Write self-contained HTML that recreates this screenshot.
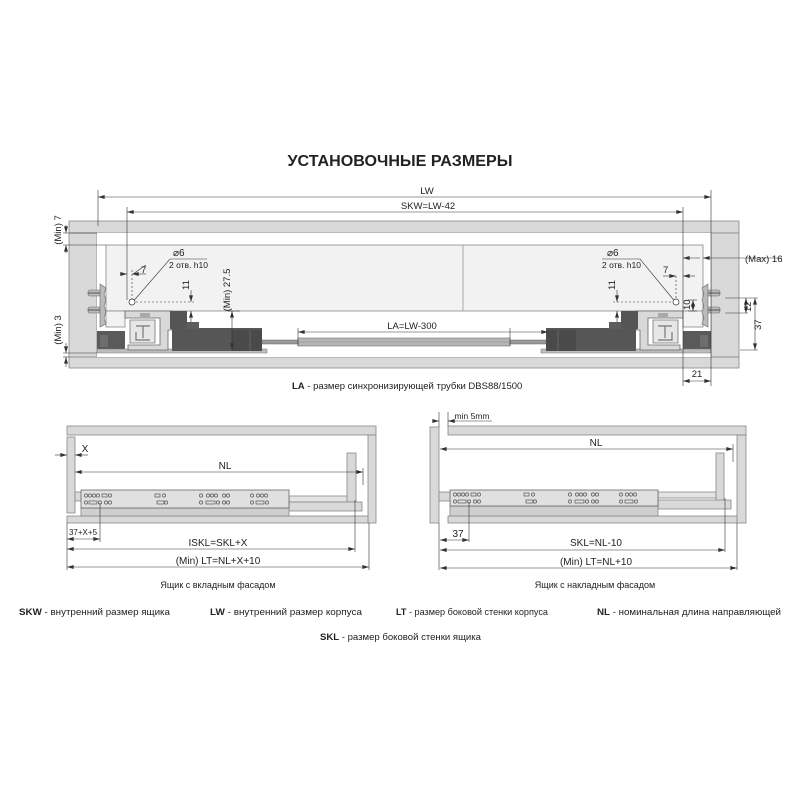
<!DOCTYPE html>
<html><head><meta charset="utf-8">
<style>
html,body{margin:0;padding:0;background:#fff;}
svg{display:block;font-family:"Liberation Sans",sans-serif;}
</style></head><body>
<svg width="800" height="800" viewBox="0 0 800 800" xmlns="http://www.w3.org/2000/svg">
<defs>
<marker id="a" viewBox="0 0 10 6" refX="10" refY="3" markerWidth="7" markerHeight="4" orient="auto-start-reverse" markerUnits="userSpaceOnUse"><path d="M0,0L10,3L0,6z" fill="#333"/></marker>
<g id="mech">
  <g fill="#bbb" stroke="#666" stroke-width="0.6">
    <rect x="88" y="290" width="14" height="6" rx="2"/>
    <rect x="88" y="307" width="14" height="6" rx="2"/>
    <path d="M100,284 L106,288 L104,294 L106,300 L104,306 L106,312 L104,318 L106,324 L100,327 z"/>
  </g>
  <path d="M88,293 h12 M88,310 h12" stroke="#555" stroke-width="1"/>
  <rect x="97" y="331" width="28" height="19" fill="#5a5a5a"/>
  <rect x="100" y="335" width="8" height="12" fill="#6e6e6e"/>
  <rect x="97" y="349" width="170" height="4" fill="#bdbdbd" stroke="#777" stroke-width="0.5"/>
  <path d="M125,311 H172 V330 H168 V350 H128 V345 H160 V318 H125 z" fill="#d9d9d9" stroke="#666" stroke-width="0.8"/>
  <path d="M130,320 H155 V343 H130 z" fill="#e6e6e6" stroke="#777" stroke-width="0.8"/>
  <path d="M136,326 H150 M143,326 V338 M136,332 V340 H150" fill="none" stroke="#777" stroke-width="1.2"/>
  <rect x="140" y="313" width="10" height="4" fill="#aaa"/>
  <rect x="170" y="311" width="17" height="18" fill="#555"/>
  <rect x="172" y="328" width="90" height="23" fill="#565656"/>
  <rect x="187" y="322" width="12" height="7" fill="#5d5d5d"/>
  <rect x="232" y="330" width="30" height="21" fill="#4a4a4a"/>
  <line x1="250" y1="330" x2="250" y2="351" stroke="#777" stroke-width="0.6"/>
  <rect x="262" y="340" width="36" height="4" fill="#999" stroke="#666" stroke-width="0.5"/>
</g>
</defs>

<text x="400" y="166" text-anchor="middle" font-size="16" font-weight="bold" fill="#222" textLength="225" lengthAdjust="spacingAndGlyphs">УСТАНОВОЧНЫЕ  РАЗМЕРЫ</text>

<g stroke="#888" stroke-width="0.8" fill="#d9d9d9">
  <rect x="69" y="221" width="670" height="12"/>
  <rect x="69" y="233" width="28" height="124"/>
  <rect x="711" y="233" width="28" height="124"/>
  <rect x="69" y="357" width="670" height="11"/>
</g>
<rect x="97" y="233" width="614" height="124" fill="#fff"/>
<rect x="106" y="245" width="597" height="66" fill="#f2f2f2" stroke="#888" stroke-width="0.8"/>
<line x1="463" y1="245" x2="463" y2="311" stroke="#999" stroke-width="0.8"/>
<rect x="106" y="311" width="19" height="16" fill="#f2f2f2" stroke="#888" stroke-width="0.8"/>
<rect x="683" y="311" width="20" height="16" fill="#f2f2f2" stroke="#888" stroke-width="0.8"/>
<use href="#mech"/>
<use href="#mech" transform="translate(808,0) scale(-1,1)"/>
<rect x="298" y="338" width="212" height="8" fill="#b5b5b5" stroke="#777" stroke-width="0.6"/>
<line x1="298" y1="342" x2="510" y2="342" stroke="#888" stroke-width="0.6"/>

<g stroke="#333" stroke-width="0.6" fill="none">
  <line x1="98" y1="190" x2="98" y2="226"/>
  <line x1="711" y1="190" x2="711" y2="386"/>
  <line x1="98" y1="197" x2="711" y2="197" marker-start="url(#a)" marker-end="url(#a)"/>
  <line x1="127" y1="207" x2="127" y2="300"/>
  <line x1="683" y1="207" x2="683" y2="386"/>
  <line x1="127" y1="212" x2="683" y2="212" marker-start="url(#a)" marker-end="url(#a)"/>
  <line x1="683" y1="381" x2="711" y2="381" marker-start="url(#a)" marker-end="url(#a)"/>
  <line x1="298" y1="332" x2="548" y2="332" marker-start="url(#a)" marker-end="url(#a)"/>
  <line x1="298" y1="328" x2="298" y2="346"/><line x1="510" y1="328" x2="510" y2="346"/>
  <line x1="63" y1="233" x2="97" y2="233"/><line x1="63" y1="245" x2="106" y2="245"/>
  <line x1="66" y1="225" x2="66" y2="233" marker-end="url(#a)"/>
  <line x1="66" y1="253" x2="66" y2="245" marker-end="url(#a)"/>
  <line x1="63" y1="353" x2="97" y2="353"/><line x1="63" y1="357" x2="69" y2="357"/>
  <line x1="66" y1="343" x2="66" y2="353" marker-end="url(#a)"/>
  <line x1="66" y1="367" x2="66" y2="357" marker-end="url(#a)"/>
  <line x1="120" y1="274" x2="127" y2="274" marker-end="url(#a)"/>
  <line x1="146" y1="274" x2="132" y2="274" marker-end="url(#a)"/>
  <path d="M133,274 L146,265"/>
  <line x1="132" y1="270" x2="132" y2="300" stroke-dasharray="2,2"/>
  <line x1="132" y1="302" x2="195" y2="302" stroke-dasharray="2,2"/>
  <path d="M130,305 L170,259 H207"/>
  <line x1="191" y1="290" x2="191" y2="302" marker-end="url(#a)"/>
  <line x1="191" y1="322" x2="191" y2="311" marker-end="url(#a)"/>
  <line x1="232" y1="311" x2="232" y2="350" marker-start="url(#a)" marker-end="url(#a)"/>
  <line x1="228" y1="311" x2="240" y2="311"/>
  <line x1="670" y1="276" x2="676" y2="276" marker-end="url(#a)"/>
  <line x1="695" y1="276" x2="683" y2="276" marker-end="url(#a)"/>
  <path d="M663,276 L670,276"/>
  <line x1="676" y1="276" x2="676" y2="300" stroke-dasharray="2,2"/>
  <line x1="613" y1="302" x2="676" y2="302" stroke-dasharray="2,2"/>
  <path d="M677,304 L640,259 H602"/>
  <line x1="617" y1="290" x2="617" y2="302" marker-end="url(#a)"/>
  <line x1="617" y1="322" x2="617" y2="311" marker-end="url(#a)"/>
  <line x1="693" y1="300" x2="693" y2="311" marker-start="url(#a)" marker-end="url(#a)"/>
  <line x1="688" y1="311" x2="697" y2="311"/><line x1="688" y1="300" x2="697" y2="300"/>
  <line x1="683" y1="258" x2="700" y2="258" marker-start="url(#a)"/>
  <line x1="703" y1="258" x2="782" y2="258" marker-start="url(#a)"/>
  <line x1="725" y1="298" x2="758" y2="298"/><line x1="725" y1="313" x2="748" y2="313"/>
  <line x1="740" y1="350" x2="758" y2="350"/>
  <line x1="746" y1="298" x2="746" y2="313" marker-start="url(#a)" marker-end="url(#a)"/>
  <line x1="755" y1="298" x2="755" y2="350" marker-start="url(#a)" marker-end="url(#a)"/>
</g>
<circle cx="132" cy="302" r="3" fill="#fff" stroke="#333" stroke-width="0.7"/>
<circle cx="676" cy="302" r="3" fill="#fff" stroke="#333" stroke-width="0.7"/>
<g font-size="9.5" fill="#222">
  <text x="427" y="194" text-anchor="middle">LW</text>
  <text x="428" y="209" text-anchor="middle">SKW=LW-42</text>
  <text x="412" y="329" text-anchor="middle">LA=LW-300</text>
  <text x="697" y="377" text-anchor="middle">21</text>
  <text x="745" y="262">(Max) 16</text>
  <text x="173" y="256" font-size="10">⌀6</text>
  <text x="169" y="268" font-size="8.5">2 отв. h10</text>
  <text x="141" y="273">7</text>
  <text x="607" y="256" font-size="10">⌀6</text>
  <text x="602" y="268" font-size="8.5">2 отв. h10</text>
  <text x="663" y="273">7</text>
  <text transform="translate(61,230) rotate(-90)" text-anchor="middle">(Min) 7</text>
  <text transform="translate(61,330) rotate(-90)" text-anchor="middle">(Min) 3</text>
  <text transform="translate(189,290) rotate(-90)">11</text>
  <text transform="translate(230,290) rotate(-90)" text-anchor="middle">(Min) 27.5</text>
  <text transform="translate(615,290) rotate(-90)">11</text>
  <text transform="translate(690,310) rotate(-90)">10</text>
  <text transform="translate(751,312) rotate(-90)">12</text>
  <text transform="translate(761,330) rotate(-90)">37</text>
</g>
<text x="292" y="389" font-size="9.5" fill="#222"><tspan font-weight="bold">LA</tspan> - размер синхронизирующей трубки DBS88/1500</text>

<g stroke="#888" stroke-width="0.8" fill="#d9d9d9">
  <rect x="67" y="426" width="309" height="9"/>
  <rect x="368" y="435" width="8" height="88"/>
  <rect x="67" y="437" width="8" height="76"/>
  <rect x="67" y="516" width="301" height="7"/>
  <rect x="347" y="453" width="9" height="49"/>
  <rect x="75" y="492" width="8" height="9"/>
  <rect x="289" y="496" width="58" height="6" fill="#e4e4e4"/>
  <rect x="289" y="502" width="73" height="9"/>
  <rect x="81" y="508" width="208" height="8" fill="#cfcfcf"/>
  <rect x="81" y="490" width="208" height="18" fill="#e0e0e0" stroke="#666"/>
</g>
<g id="holes" fill="none" stroke="#555" stroke-width="0.7">
  <circle cx="86" cy="495.5" r="1.6"/><circle cx="90" cy="495.5" r="1.6"/><circle cx="94" cy="495.5" r="1.6"/><circle cx="98" cy="495.5" r="1.6"/><rect x="102" y="494" width="5" height="3"/><circle cx="110" cy="495.5" r="1.6"/>
  <circle cx="86" cy="502.5" r="1.6"/><rect x="89" y="501" width="8" height="3"/><circle cx="100" cy="502.5" r="1.6"/><circle cx="106" cy="502.5" r="1.6"/><circle cx="110" cy="502.5" r="1.6"/>
  <rect x="155" y="494" width="5" height="3"/><circle cx="164" cy="495.5" r="1.6"/><rect x="157" y="501" width="7" height="3"/><circle cx="166" cy="502.5" r="1.6"/>
  <circle cx="201" cy="495.5" r="1.6"/><circle cx="208" cy="495.5" r="1.6"/><circle cx="212" cy="495.5" r="1.6"/><circle cx="216" cy="495.5" r="1.6"/><circle cx="224" cy="495.5" r="1.6"/><circle cx="228" cy="495.5" r="1.6"/>
  <circle cx="201" cy="502.5" r="1.6"/><rect x="206" y="501" width="9" height="3"/><circle cx="218" cy="502.5" r="1.6"/><circle cx="224" cy="502.5" r="1.6"/><circle cx="228" cy="502.5" r="1.6"/>
  <circle cx="252" cy="495.5" r="1.6"/><circle cx="258" cy="495.5" r="1.6"/><circle cx="262" cy="495.5" r="1.6"/><circle cx="266" cy="495.5" r="1.6"/>
  <circle cx="252" cy="502.5" r="1.6"/><rect x="256" y="501" width="8" height="3"/><circle cx="267" cy="502.5" r="1.6"/>
</g>
<g stroke="#333" stroke-width="0.6" fill="none">
  <line x1="55" y1="455" x2="67" y2="455" marker-end="url(#a)"/>
  <line x1="88" y1="455" x2="75" y2="455" marker-end="url(#a)"/>
  <line x1="75" y1="472" x2="363" y2="472" marker-start="url(#a)" marker-end="url(#a)"/>
  <line x1="363" y1="468" x2="363" y2="485"/>
  <line x1="355" y1="500" x2="355" y2="552"/>
  <line x1="100" y1="503" x2="100" y2="542"/>
  <line x1="67" y1="523" x2="67" y2="570"/>
  <line x1="369" y1="523" x2="369" y2="570"/>
  <line x1="67" y1="539" x2="100" y2="539" marker-start="url(#a)" marker-end="url(#a)"/>
  <line x1="67" y1="549" x2="355" y2="549" marker-start="url(#a)" marker-end="url(#a)"/>
  <line x1="67" y1="567" x2="369" y2="567" marker-start="url(#a)" marker-end="url(#a)"/>
</g>
<g font-size="10" fill="#222" text-anchor="middle">
  <text x="85" y="452">X</text>
  <text x="225" y="469">NL</text>
  <text x="83" y="535" font-size="8">37+X+5</text>
  <text x="218" y="546">ISKL=SKL+X</text>
  <text x="218" y="564">(Min) LT=NL+X+10</text>
  <text x="218" y="588" font-size="9">Ящик с вкладным фасадом</text>
</g>

<g stroke="#888" stroke-width="0.8" fill="#d9d9d9">
  <rect x="430" y="427" width="9" height="96"/>
  <rect x="448" y="426" width="298" height="9"/>
  <rect x="737" y="435" width="9" height="88"/>
  <rect x="448" y="516" width="289" height="7"/>
  <rect x="716" y="453" width="8" height="49"/>
  <rect x="439" y="492" width="12" height="9"/>
  <rect x="658" y="492" width="58" height="6" fill="#e4e4e4"/>
  <rect x="658" y="500" width="73" height="9"/>
  <rect x="450" y="506" width="208" height="10" fill="#cfcfcf"/>
  <rect x="450" y="490" width="208" height="16" fill="#e0e0e0" stroke="#666"/>
</g>
<use href="#holes" transform="translate(369,-1)"/>
<g stroke="#333" stroke-width="0.6" fill="none">
  <line x1="433" y1="421" x2="439" y2="421" marker-end="url(#a)"/>
  <line x1="455" y1="421" x2="448" y2="421" marker-end="url(#a)"/>
  <line x1="448" y1="421" x2="492" y2="421"/>
  <line x1="439" y1="412" x2="439" y2="427"/><line x1="448" y1="412" x2="448" y2="426"/>
  <line x1="440" y1="449" x2="733" y2="449" marker-start="url(#a)" marker-end="url(#a)"/>
  <line x1="733" y1="444" x2="733" y2="462"/>
  <line x1="725" y1="498" x2="725" y2="552"/>
  <line x1="469" y1="502" x2="469" y2="542"/>
  <line x1="439" y1="523" x2="439" y2="570"/>
  <line x1="737" y1="523" x2="737" y2="570"/>
  <line x1="440" y1="540" x2="469" y2="540" marker-start="url(#a)" marker-end="url(#a)"/>
  <line x1="440" y1="550" x2="725" y2="550" marker-start="url(#a)" marker-end="url(#a)"/>
  <line x1="440" y1="568" x2="737" y2="568" marker-start="url(#a)" marker-end="url(#a)"/>
</g>
<g font-size="10" fill="#222" text-anchor="middle">
  <text x="472" y="419" font-size="8.5">min 5mm</text>
  <text x="596" y="446">NL</text>
  <text x="458" y="537">37</text>
  <text x="596" y="546">SKL=NL-10</text>
  <text x="596" y="565">(Min) LT=NL+10</text>
  <text x="595" y="588" font-size="9">Ящик с накладным фасадом</text>
</g>

<g font-size="9.5" fill="#222">
  <text x="19" y="615" textLength="151" lengthAdjust="spacingAndGlyphs"><tspan font-weight="bold">SKW</tspan> - внутренний размер ящика</text>
  <text x="210" y="615" textLength="152" lengthAdjust="spacingAndGlyphs"><tspan font-weight="bold">LW</tspan> - внутренний размер корпуса</text>
  <text x="396" y="615" textLength="152" lengthAdjust="spacingAndGlyphs"><tspan font-weight="bold">LT</tspan> - размер боковой стенки корпуса</text>
  <text x="597" y="615" textLength="184" lengthAdjust="spacingAndGlyphs"><tspan font-weight="bold">NL</tspan> - номинальная длина направляющей</text>
  <text x="320" y="640" textLength="161" lengthAdjust="spacingAndGlyphs"><tspan font-weight="bold">SKL</tspan> - размер боковой стенки ящика</text>
</g>
</svg>
</body></html>
